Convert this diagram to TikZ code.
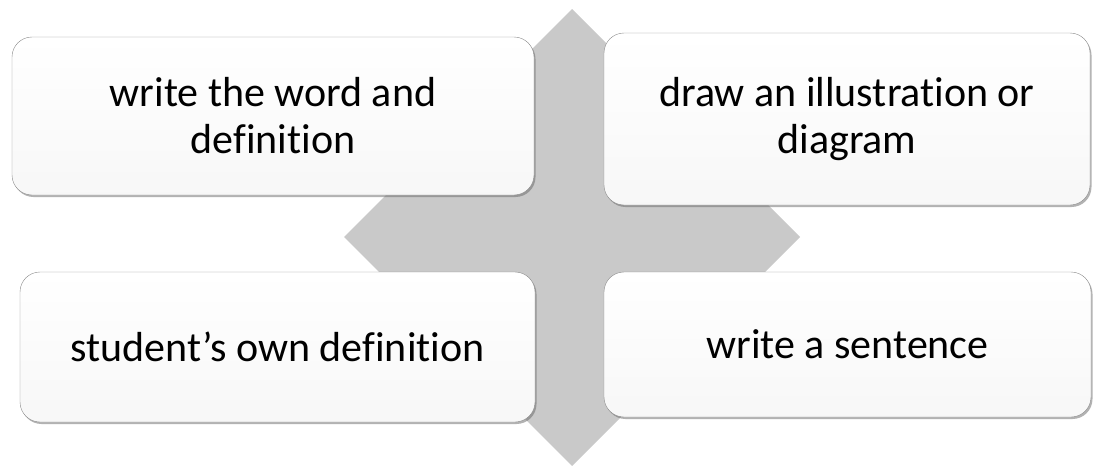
\documentclass[tikz,border=0pt]{standalone}
\usepackage{fontspec}
\setmainfont{Carlito}[Ligatures=CommonOff]
\usetikzlibrary{positioning, shadows}
\tikzset{
  card/.style  = {draw=black!45, rounded corners=20pt, top color=white, bottom color=black!3,
                  align=center, inner sep=0pt, outer sep=0pt,
                  font=\fontsize{42}{47}\selectfont,
                  drop shadow={shadow xshift=1.5pt, shadow yshift=-2pt, opacity=0.5, fill=black!60}},
  quadarrow/.style = {fill=black!21, draw=none},
}

\begin{document}
\begin{tikzpicture}[x=1pt, y=-1pt]
  \useasboundingbox (0,0) rectangle (1093,466);
  % four-way arrow behind the cards
  \fill[quadarrow] (572,9) -- (632,69) -- (624,69) -- (624,185) -- (740,185) -- (740,177)
    -- (800,237) -- (740,297) -- (740,289) -- (624,289) -- (624,406) -- (632,406)
    -- (572,466) -- (512,406) -- (520,406) -- (520,289) -- (404,289) -- (404,297)
    -- (344,237) -- (404,177) -- (404,185) -- (520,185) -- (520,69) -- (512,69) -- cycle;
  % the four cards
  \node[card, minimum width=522pt, minimum height=158pt] (word) at (273,116)
    {write the word and\\definition};
  \node[card, minimum width=486pt, minimum height=172pt] (picture) at (847,119)
    {draw an illustration or\\diagram};
  \node[card, minimum width=515pt, minimum height=150pt] (own) at (277.5,347)
    {student’s own definition};
  \node[card, minimum width=487pt, minimum height=145pt] (sentence) at (847.5,344.5)
    {write a sentence};
\end{tikzpicture}
\end{document}
